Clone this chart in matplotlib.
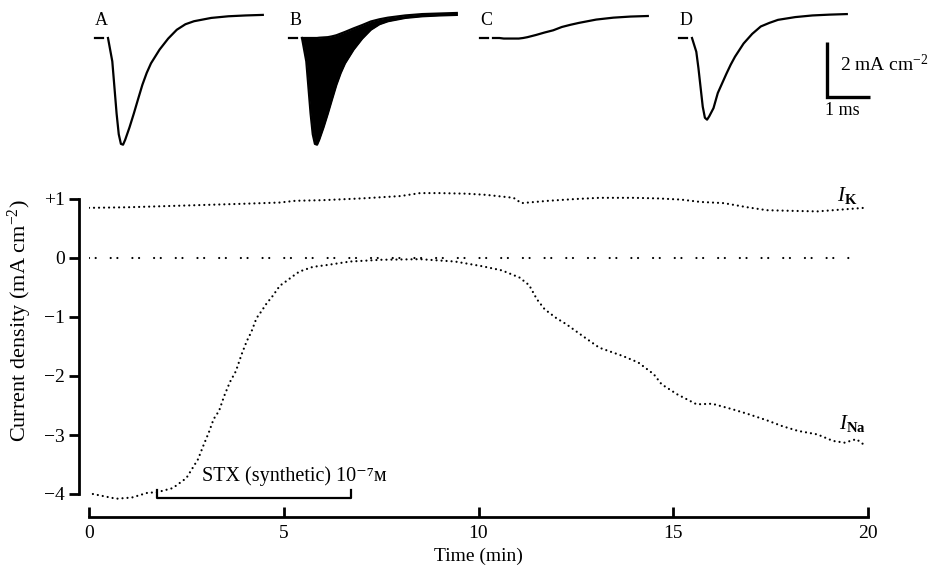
import numpy as np
import matplotlib
matplotlib.use('Agg')
import matplotlib.pyplot as plt

plt.rcParams['font.family'] = ['Liberation Serif', 'DejaVu Serif']
plt.rcParams['mathtext.fontset'] = 'custom'
plt.rcParams['mathtext.rm'] = 'Liberation Serif'
plt.rcParams['mathtext.it'] = 'Liberation Serif:italic'
plt.rcParams['mathtext.bf'] = 'Liberation Serif:bold'
plt.rcParams['mathtext.default'] = 'regular'
plt.rcParams['lines.scale_dashes'] = False

# --- membrane current records (ms, mA cm-2) ---
rec_t = np.array([0, 0.1, 0.15, 0.2, 0.25, 0.3, 0.35, 0.4, 0.5, 0.6, 0.7, 0.8, 0.9,
                  1.0, 1.2, 1.4, 1.6, 1.8, 2.0, 2.4, 2.8, 3.2, 3.6])
rec_a = np.array([0, -0.85, -1.8, -2.75, -3.5, -3.85, -3.88, -3.7, -3.25, -2.75, -2.22, -1.7, -1.27,
                  -0.92, -0.42, -0.02, 0.3, 0.5, 0.61, 0.73, 0.79, 0.82, 0.84])
rec_b_stx = np.array([0, 0, 0, 0, 0, 0, 0, 0.01, 0.02, 0.03, 0.06, 0.1, 0.16,
                      0.22, 0.35, 0.47, 0.6, 0.68, 0.74, 0.82, 0.87, 0.89, 0.91])
rec_c = np.array([0, 0, 0, -0.01, -0.02, -0.02, -0.02, -0.02, -0.02, -0.02, 0, 0.03, 0.07,
                  0.11, 0.2, 0.28, 0.4, 0.48, 0.55, 0.67, 0.74, 0.78, 0.8])
rec_d = np.array([0, -0.5, -1.1, -1.8, -2.5, -2.9, -2.97, -2.85, -2.55, -2.0, -1.65, -1.3, -0.97,
                  -0.68, -0.2, 0.15, 0.42, 0.55, 0.66, 0.76, 0.82, 0.85, 0.87])
panel_names = ['A', 'B', 'C', 'D']

# --- time course (min) ---
ik_t = [0.0, 1.0, 2.0, 3.0, 4.0, 4.9, 5.3, 6.0, 7.0, 8.0, 8.5, 9.0, 9.7, 10.2, 10.9, 11.1,
        11.8, 12.5, 13.1, 14.0, 14.6, 15.2, 15.7, 16.3, 16.9, 17.4, 18.0, 18.7, 19.3, 19.9]
ik = [0.85, 0.86, 0.88, 0.9, 0.92, 0.94, 0.97, 0.98, 1.01, 1.05, 1.1, 1.1, 1.09, 1.07, 1.02, 0.93,
      0.97, 1.0, 1.02, 1.02, 1.01, 0.99, 0.95, 0.93, 0.86, 0.81, 0.8, 0.79, 0.82, 0.85]

ina_t = [0.1, 0.7, 1.1, 1.5, 1.75, 2.15, 2.5, 2.8, 2.93, 3.08, 3.2, 3.34, 3.47, 3.62, 3.77,
         3.92, 4.05, 4.17, 4.3, 4.43, 4.55, 4.72, 4.9, 5.07, 5.23, 5.4, 5.75, 6.1, 6.7, 7.5,
         8.5, 9.4, 10.1, 10.6, 11.05, 11.3, 11.5, 11.7, 12.0, 12.25, 12.67, 13.1, 13.7, 14.1,
         14.5, 14.7, 15.1, 15.6, 16.0, 16.5, 16.9, 17.4, 17.8, 18.2, 18.7, 19.1, 19.4, 19.7, 19.95]
ina = [-4.0, -4.08, -4.06, -3.98, -3.97, -3.9, -3.73, -3.41, -3.19, -2.95, -2.73, -2.59, -2.34,
       -2.1, -1.92, -1.63, -1.41, -1.25, -1.02, -0.9, -0.78, -0.64, -0.47, -0.39, -0.31, -0.23,
       -0.15, -0.12, -0.06, -0.03, -0.02, -0.06, -0.14, -0.21, -0.33, -0.46, -0.7, -0.87, -1.02,
       -1.12, -1.32, -1.52, -1.66, -1.77, -1.97, -2.14, -2.31, -2.48, -2.47, -2.56, -2.64, -2.75,
       -2.85, -2.93, -2.99, -3.1, -3.13, -3.07, -3.19]

stx_on, stx_off = 1.74, 6.72
xticks = [0, 5, 10, 15, 20]
yticks = [1, 0, -1, -2, -3, -4]
ytick_labels = ['+1', '0', '\u22121', '\u22122', '\u22123', '\u22124']

W, H = 933, 568
fig = plt.figure(figsize=(W / 100, H / 100), dpi=100)

# top row of records: 43 px per ms, 27.5 px per mA cm-2
ms_px, ma_px = 43.0, 27.5
top = fig.add_axes([0, 1 - 160 / H, 1, 160 / H])
top.set_xlim(0, W / ms_px)
top.set_ylim(-(160 - 38) / ma_px, 38 / ma_px)
top.axis('off')
offsets = [108 / ms_px, 302 / ms_px, 493 / ms_px, 692 / ms_px]
lw_rec = 1.6
for name, off in zip(panel_names, offsets):
    top.plot([off - 0.3, off - 0.12], [0, 0], color='k', lw=1.6)
    top.text(off - 0.15, 0.62, name, ha='center', va='center', fontsize=13)
top.plot(offsets[0] + rec_t, rec_a, color='k', lw=lw_rec)
top.fill_between(offsets[1] + rec_t, rec_a, rec_b_stx, color='k', lw=0)
top.plot(offsets[1] + rec_t, rec_a, color='k', lw=lw_rec)
top.plot(offsets[1] + rec_t, rec_b_stx, color='k', lw=lw_rec)
top.plot(offsets[2] + rec_t, rec_c, color='k', lw=lw_rec)
top.plot(offsets[3] + rec_t, rec_d, color='k', lw=lw_rec)

# scale bars
sb_x, sb_y = 827 / ms_px, -4 / ma_px
top.plot([sb_x, sb_x, sb_x + 1], [sb_y, sb_y - 2, sb_y - 2], color='k', lw=2.4,
         solid_joinstyle='miter', solid_capstyle='butt')
top.text(sb_x + 0.3, sb_y - 0.8, r'2 mA cm$^{-2}$', fontsize=14, va='center')
top.text(sb_x - 0.05, sb_y - 2.5, '1 ms', fontsize=13, va='center')

# main time course
ax = fig.add_axes([89 / W, 1 - 511.7 / H, 779 / W, (511.7 - 181.3) / H])
ax.set_xlim(0, 20)
ax.set_ylim(-4.3, 1.3)

dots = (0, (0.01, 3.6))
ax.plot(ik_t, ik, color='k', lw=1.6, ls=dots, dash_capstyle='round')
ax.plot(ina_t, ina, color='k', lw=1.6, ls=dots, dash_capstyle='round')
ax.plot([0, 19.6], [0, 0], color='k', lw=1.6, ls=(0, (0.01, 4.8, 0.01, 10.8)),
        dash_capstyle='round')

ax.plot([stx_on, stx_on, stx_off, stx_off], [-3.93, -4.07, -4.07, -3.93], color='k', lw=1.6)
ax.text(2.9, -3.7, 'STX (synthetic) 10\u207b\u2077\u1d0d', fontsize=14.5, va='center')

ax.text(19.2, 1.06, r'$\mathit{I}_{\mathbf{K}}$', fontsize=15, va='center')
ax.text(19.25, -2.8, r'$\mathit{I}_{\mathbf{Na}}$', fontsize=15, va='center')

for s in ['top', 'right']:
    ax.spines[s].set_visible(False)
ax.spines['left'].set_position(('outward', 7.2))
ax.spines['left'].set_bounds(-4, 1)
ax.spines['bottom'].set_position(('outward', 3.8))
ax.spines['bottom'].set_bounds(0, 20)
for s in ['left', 'bottom']:
    ax.spines[s].set_linewidth(2)

ax.set_xticks(xticks)
ax.set_yticks(yticks)
ax.set_yticklabels(ytick_labels)
ax.tick_params(axis='y', direction='out', length=7, width=2, pad=3, labelsize=14)
ax.tick_params(axis='x', direction='in', length=7, width=2, pad=6, labelsize=14)

ax.set_xlabel('Time (min)', fontsize=14)
ax.xaxis.set_label_coords(0.5, -0.11)
ax.set_ylabel(r'Current density (mA cm$^{-2}$)', fontsize=16)
ax.yaxis.set_label_coords(-0.071, 0.577)

fig.savefig('out.png', dpi=100)
